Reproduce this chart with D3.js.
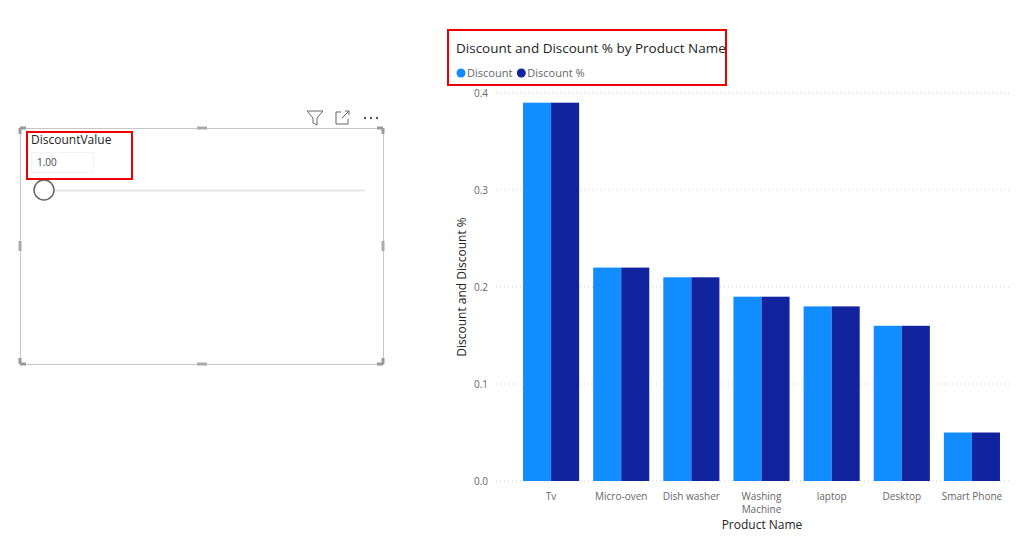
<!DOCTYPE html><html><head><meta charset="utf-8"><script src="https://cdn.jsdelivr.net/npm/d3@7"></script>
<style>body{margin:0;background:#fff}text{font-family:"Segoe UI","Open Sans",sans-serif}</style></head><body>
<svg id="c" width="1024" height="542"></svg>
<script>
const categories=["Tv","Micro-oven","Dish washer","Washing Machine","laptop","Desktop","Smart Phone"];
const discount=[0.39,0.22,0.21,0.19,0.18,0.16,0.05];
const discountPct=[0.39,0.22,0.21,0.19,0.18,0.16,0.05];
const yTicks=[0,0.1,0.2,0.3,0.4];
const series=[{name:"Discount",values:discount,color:"#118DFF"},{name:"Discount %",values:discountPct,color:"#12239E"}];
const svg=d3.select("#c");
const g0=svg.append("g");
g0.append("rect").attr("x",20.5).attr("y",128.5).attr("width",363).attr("height",236).attr("fill","none").attr("stroke","#c8c8c8");
[[20,128],[383,128],[20,364],[383,364]].forEach(([x,y])=>{
 g0.append("path").attr("d",`M${x+(x<200?0:-6)},${y} h6 M${x},${y+(y<200?0:-6)} v6`).attr("stroke","#999").attr("stroke-width",3);});
[[202,128,"h"],[202,364,"h"],[20,246,"v"],[383,246,"v"]].forEach(([x,y,o])=>{
 if(o=="h")g0.append("rect").attr("x",x-5).attr("y",y-1.5).attr("width",10).attr("height",3).attr("fill","#aaa");
 else g0.append("rect").attr("x",x-1.5).attr("y",y-5).attr("width",3).attr("height",10).attr("fill","#aaa");});
g0.append("text").attr("x",31).attr("y",144).attr("font-size",12).attr("fill","#252423").text("DiscountValue");
g0.append("rect").attr("x",31.5).attr("y",152.5).attr("width",62).attr("height",20).attr("fill","#fff").attr("stroke","#e6e6e6").attr("stroke-dasharray","1,1");
g0.append("text").attr("x",37).attr("y",166).attr("font-size",10).attr("fill","#444").text("1.00");
g0.append("line").attr("x1",44).attr("x2",365).attr("y1",190.5).attr("y2",190.5).attr("stroke","#e8e8e8").attr("stroke-width",2);
g0.append("circle").attr("cx",44).attr("cy",190).attr("r",10).attr("fill","#fff").attr("stroke","#666").attr("stroke-width",1.5);
g0.append("rect").attr("x",27).attr("y",132).attr("width",105).attr("height",47).attr("fill","none").attr("stroke","#e00").attr("stroke-width",2);
g0.append("path").attr("d","M307,111 h16 l-6,7 v7 l-4,-2 v-5 z").attr("fill","none").attr("stroke","#666");
g0.append("path").attr("d","M341,112 h-5 v12 h12 v-5 M342,118 l7,-7 M345,111 h4 v4").attr("fill","none").attr("stroke","#666");
[365,371,377].forEach(x=>g0.append("circle").attr("cx",x).attr("cy",118).attr("r",1.2).attr("fill","#555"));
const x0=d3.scaleBand().domain(categories).range([516,1007]).paddingInner(0.2).paddingOuter(0.1);
const x1=d3.scaleBand().domain(series.map(s=>s.name)).range([0,x0.bandwidth()]);
const y=d3.scaleLinear().domain([0,0.4]).range([481,93]);
yTicks.forEach(t=>{
 svg.append("line").attr("x1",496).attr("x2",1010).attr("y1",y(t)).attr("y2",y(t)).attr("stroke","#d0d0d0").attr("stroke-dasharray","1,3");
 svg.append("text").attr("x",488).attr("y",y(t)+4).attr("text-anchor","end").attr("font-size",10).attr("fill","#666").text(t.toFixed(1));});
series.forEach(s=>{
 svg.append("g").selectAll("rect").data(categories).join("rect")
  .attr("x",(c)=>x0(c)+x1(s.name)).attr("width",x1.bandwidth())
  .attr("y",(c,i)=>y(s.values[i])).attr("height",(c,i)=>y(0)-y(s.values[i])).attr("fill",s.color);});
categories.forEach(c=>{
 const t=svg.append("text").attr("x",x0(c)+x0.bandwidth()/2).attr("y",500).attr("text-anchor","middle").attr("font-size",10).attr("fill","#666");
 if(c==="Washing Machine"){t.append("tspan").text("Washing");t.append("tspan").attr("x",x0(c)+x0.bandwidth()/2).attr("dy",13).text("Machine");}
 else t.text(c);});
svg.append("text").attr("x",762).attr("y",529).attr("text-anchor","middle").attr("font-size",12).attr("fill","#252423").text("Product Name");
svg.append("text").attr("transform","translate(466,287) rotate(-90)").attr("text-anchor","middle").attr("font-size",12).attr("fill","#252423").text("Discount and Discount %");
svg.append("text").attr("x",456).attr("y",53).attr("font-size",13.5).attr("fill","#252423").text("Discount and Discount % by Product Name");
let lx=456;
series.forEach(s=>{
 svg.append("circle").attr("cx",lx+5).attr("cy",73).attr("r",4.5).attr("fill",s.color);
 const t=svg.append("text").attr("x",lx+11).attr("y",77).attr("font-size",11).attr("fill","#666").text(s.name);
 lx+=11+t.node().getComputedTextLength()+4;});
svg.append("rect").attr("x",448).attr("y",30).attr("width",278).attr("height",55).attr("fill","none").attr("stroke","#e00").attr("stroke-width",2);
</script></body></html>
